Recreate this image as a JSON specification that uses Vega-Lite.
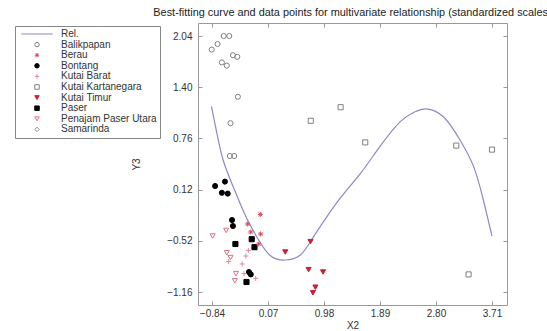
{
  "$schema": "https://vega.github.io/schema/vega-lite/v6.json",
  "width": 309,
  "height": 282,
  "autosize": "none",
  "padding": {"left": 198, "top": 23, "right": 40, "bottom": 26},
  "background": "white",
  "title": {
    "text": "Best-fitting curve and data points for multivariate relationship (standardized scales)",
    "font": "Liberation Sans",
    "fontSize": 10.9,
    "fontWeight": "normal",
    "color": "#222",
    "anchor": "middle",
    "offset": 5
  },
  "config": {
    "view": {"stroke": "#999", "strokeWidth": 1},
    "axis": {
      "grid": false,
      "domain": false,
      "labelFont": "Liberation Sans",
      "labelFontSize": 10,
      "labelColor": "#333",
      "tickColor": "#999",
      "tickSize": -4,
      "titleFont": "Liberation Sans",
      "titleFontSize": 10,
      "titleFontWeight": "normal",
      "titleColor": "#333"
    },
    "legend": {
      "labelFont": "Liberation Sans",
      "labelFontSize": 10,
      "labelColor": "#333",
      "symbolStrokeWidth": 1
    }
  },
  "datasets": {
    "curve": [
      {"x": -0.85, "y": 1.16},
      {"x": -0.76, "y": 0.82},
      {"x": -0.66, "y": 0.49},
      {"x": -0.52, "y": 0.2},
      {"x": -0.385, "y": -0.05},
      {"x": -0.25, "y": -0.28},
      {"x": -0.113, "y": -0.47},
      {"x": 0.1, "y": -0.7},
      {"x": 0.35, "y": -0.76},
      {"x": 0.59, "y": -0.7},
      {"x": 0.76, "y": -0.53},
      {"x": 0.92, "y": -0.34},
      {"x": 1.24, "y": 0.01},
      {"x": 1.57, "y": 0.32},
      {"x": 1.89, "y": 0.66},
      {"x": 2.22, "y": 0.97},
      {"x": 2.45, "y": 1.09},
      {"x": 2.64, "y": 1.13},
      {"x": 2.92, "y": 1.03},
      {"x": 3.19, "y": 0.74},
      {"x": 3.41, "y": 0.41},
      {"x": 3.57, "y": -0.01},
      {"x": 3.71, "y": -0.46}
    ],
    "points": [
      {"group": "Balikpapan", "x": -0.845, "y": 1.87},
      {"group": "Balikpapan", "x": -0.75, "y": 1.94},
      {"group": "Balikpapan", "x": -0.65, "y": 2.04},
      {"group": "Balikpapan", "x": -0.56, "y": 2.04},
      {"group": "Balikpapan", "x": -0.5, "y": 1.8},
      {"group": "Balikpapan", "x": -0.43, "y": 1.78},
      {"group": "Balikpapan", "x": -0.68, "y": 1.71},
      {"group": "Balikpapan", "x": -0.6, "y": 1.67},
      {"group": "Balikpapan", "x": -0.42, "y": 1.28},
      {"group": "Balikpapan", "x": -0.54, "y": 0.95},
      {"group": "Balikpapan", "x": -0.55, "y": 0.54},
      {"group": "Balikpapan", "x": -0.48, "y": 0.54},
      {"group": "Bontang", "x": -0.79, "y": 0.165},
      {"group": "Bontang", "x": -0.63, "y": 0.22},
      {"group": "Bontang", "x": -0.68, "y": 0.08},
      {"group": "Bontang", "x": -0.585, "y": 0.07},
      {"group": "Bontang", "x": -0.515, "y": -0.26},
      {"group": "Bontang", "x": -0.5, "y": -0.335},
      {"group": "Bontang", "x": -0.24, "y": -0.91},
      {"group": "Bontang", "x": -0.21, "y": -0.94},
      {"group": "Paser", "x": -0.46, "y": -0.56},
      {"group": "Paser", "x": -0.195, "y": -0.5},
      {"group": "Paser", "x": -0.15, "y": -0.6},
      {"group": "Paser", "x": -0.28, "y": -1.035},
      {"group": "Berau", "x": -0.055, "y": -0.19},
      {"group": "Berau", "x": -0.26, "y": -0.31},
      {"group": "Berau", "x": -0.21, "y": -0.41},
      {"group": "Berau", "x": -0.05, "y": -0.435},
      {"group": "Berau", "x": -0.08, "y": -0.56},
      {"group": "Kutai Barat", "x": -0.25, "y": -0.64},
      {"group": "Kutai Barat", "x": -0.29, "y": -0.71},
      {"group": "Kutai Barat", "x": -0.35, "y": -0.81},
      {"group": "Kutai Barat", "x": -0.32, "y": -0.93},
      {"group": "Kutai Barat", "x": -0.13, "y": -0.99},
      {"group": "Kutai Barat", "x": -0.57, "y": -0.78},
      {"group": "Penajam Paser Utara", "x": -0.83, "y": -0.46},
      {"group": "Penajam Paser Utara", "x": -0.61, "y": -0.39},
      {"group": "Penajam Paser Utara", "x": -0.6, "y": -0.67},
      {"group": "Penajam Paser Utara", "x": -0.54, "y": -0.73},
      {"group": "Penajam Paser Utara", "x": -0.45, "y": -0.93},
      {"group": "Penajam Paser Utara", "x": -0.47, "y": -1.02},
      {"group": "Kutai Timur", "x": 0.35, "y": -0.66},
      {"group": "Kutai Timur", "x": 0.76, "y": -0.53},
      {"group": "Kutai Timur", "x": 0.73, "y": -0.88},
      {"group": "Kutai Timur", "x": 0.965, "y": -0.91},
      {"group": "Kutai Timur", "x": 0.84, "y": -1.1},
      {"group": "Kutai Timur", "x": 0.8, "y": -1.17},
      {"group": "Kutai Kartanegara", "x": 0.765, "y": 0.98},
      {"group": "Kutai Kartanegara", "x": 1.25, "y": 1.15},
      {"group": "Kutai Kartanegara", "x": 1.65, "y": 0.71},
      {"group": "Kutai Kartanegara", "x": 3.13, "y": 0.67},
      {"group": "Kutai Kartanegara", "x": 3.71, "y": 0.62},
      {"group": "Kutai Kartanegara", "x": 3.33, "y": -0.94}
    ]
  },
  "layer": [
    {
      "data": {"name": "curve"},
      "mark": {"type": "line", "interpolate": "natural", "color": "#8a8ac6", "strokeWidth": 1.2},
      "encoding": {
        "x": {
          "field": "x", "type": "quantitative",
          "scale": {"domain": [-1.068, 3.954], "nice": false, "zero": false},
          "axis": {"values": [-0.84, 0.07, 0.98, 1.89, 2.8, 3.71], "format": ".2f", "title": "X2", "labelPadding": 7, "titlePadding": 2}
        },
        "y": {
          "field": "y", "type": "quantitative",
          "scale": {"domain": [-1.3225, 2.2025], "nice": false, "zero": false},
          "axis": {"values": [-1.16, -0.52, 0.12, 0.76, 1.4, 2.04], "format": ".2f", "title": "Y3", "labelPadding": 10, "titlePadding": 25}
        }
      }
    },
    {
      "data": {"name": "points"},
      "mark": {"type": "point", "size": 26, "strokeWidth": 1, "opacity": 1},
      "encoding": {
        "x": {"field": "x", "type": "quantitative", "scale": {"domain": [-1.068, 3.954], "nice": false, "zero": false}, "axis": null},
        "y": {"field": "y", "type": "quantitative", "scale": {"domain": [-1.3225, 2.2025], "nice": false, "zero": false}, "axis": null},
        "shape": {
          "field": "group", "type": "nominal",
          "scale": {
            "domain": ["Rel.", "Balikpapan", "Berau", "Bontang", "Kutai Barat", "Kutai Kartanegara", "Kutai Timur", "Paser", "Penajam Paser Utara", "Samarinda"],
            "range": ["M-7,0L7,0", "circle", "M-1,0L1,0M0,-1L0,1M-0.7,-0.7L0.7,0.7M-0.7,0.7L0.7,-0.7", "circle", "M-1,0L1,0M0,-1L0,1", "square", "triangle-down", "square", "triangle-down", "diamond"]
          },
          "legend": {"title": null, "orient": "none", "legendX": -183, "legendY": 3, "strokeColor": "#888", "fillColor": "white", "padding": 3, "symbolSize": 20, "symbolOffset": 14, "labelOffset": 19, "rowPadding": 0.6}
        },
        "stroke": {
          "field": "group", "type": "nominal",
          "scale": {
            "domain": ["Rel.", "Balikpapan", "Berau", "Bontang", "Kutai Barat", "Kutai Kartanegara", "Kutai Timur", "Paser", "Penajam Paser Utara", "Samarinda"],
            "range": ["#8a8ac6", "#808080", "#d64a5e", "#000000", "#e08a9a", "#808080", "#cc1f2f", "#000000", "#e0707e", "#909090"]
          },
          "legend": {"title": null, "orient": "none", "legendX": -183, "legendY": 3, "strokeColor": "#888", "fillColor": "white", "padding": 3, "symbolSize": 20, "symbolOffset": 14, "labelOffset": 19, "rowPadding": 0.6}
        },
        "fill": {
          "field": "group", "type": "nominal",
          "scale": {
            "domain": ["Rel.", "Balikpapan", "Berau", "Bontang", "Kutai Barat", "Kutai Kartanegara", "Kutai Timur", "Paser", "Penajam Paser Utara", "Samarinda"],
            "range": ["transparent", "transparent", "transparent", "#000000", "transparent", "transparent", "#cc1f2f", "#000000", "transparent", "transparent"]
          },
          "legend": {"title": null, "orient": "none", "legendX": -183, "legendY": 3, "strokeColor": "#888", "fillColor": "white", "padding": 3, "symbolSize": 20, "symbolOffset": 14, "labelOffset": 19, "rowPadding": 0.6}
        }
      }
    },
    {
      "data": {"name": "curve"},
      "mark": {"type": "line", "opacity": 0},
      "encoding": {
        "x": {
          "field": "x", "type": "quantitative",
          "scale": {"domain": [-1.068, 3.954], "nice": false, "zero": false},
          "axis": {"orient": "top", "values": [-0.84, 0.07, 0.98, 1.89, 2.8, 3.71], "labels": false, "title": null}
        },
        "y": {
          "field": "y", "type": "quantitative",
          "scale": {"domain": [-1.3225, 2.2025], "nice": false, "zero": false},
          "axis": {"orient": "right", "values": [-1.16, -0.52, 0.12, 0.76, 1.4, 2.04], "labels": false, "title": null}
        }
      }
    }
  ],
  "resolve": {"scale": {"x": "independent", "y": "independent"}}
}
